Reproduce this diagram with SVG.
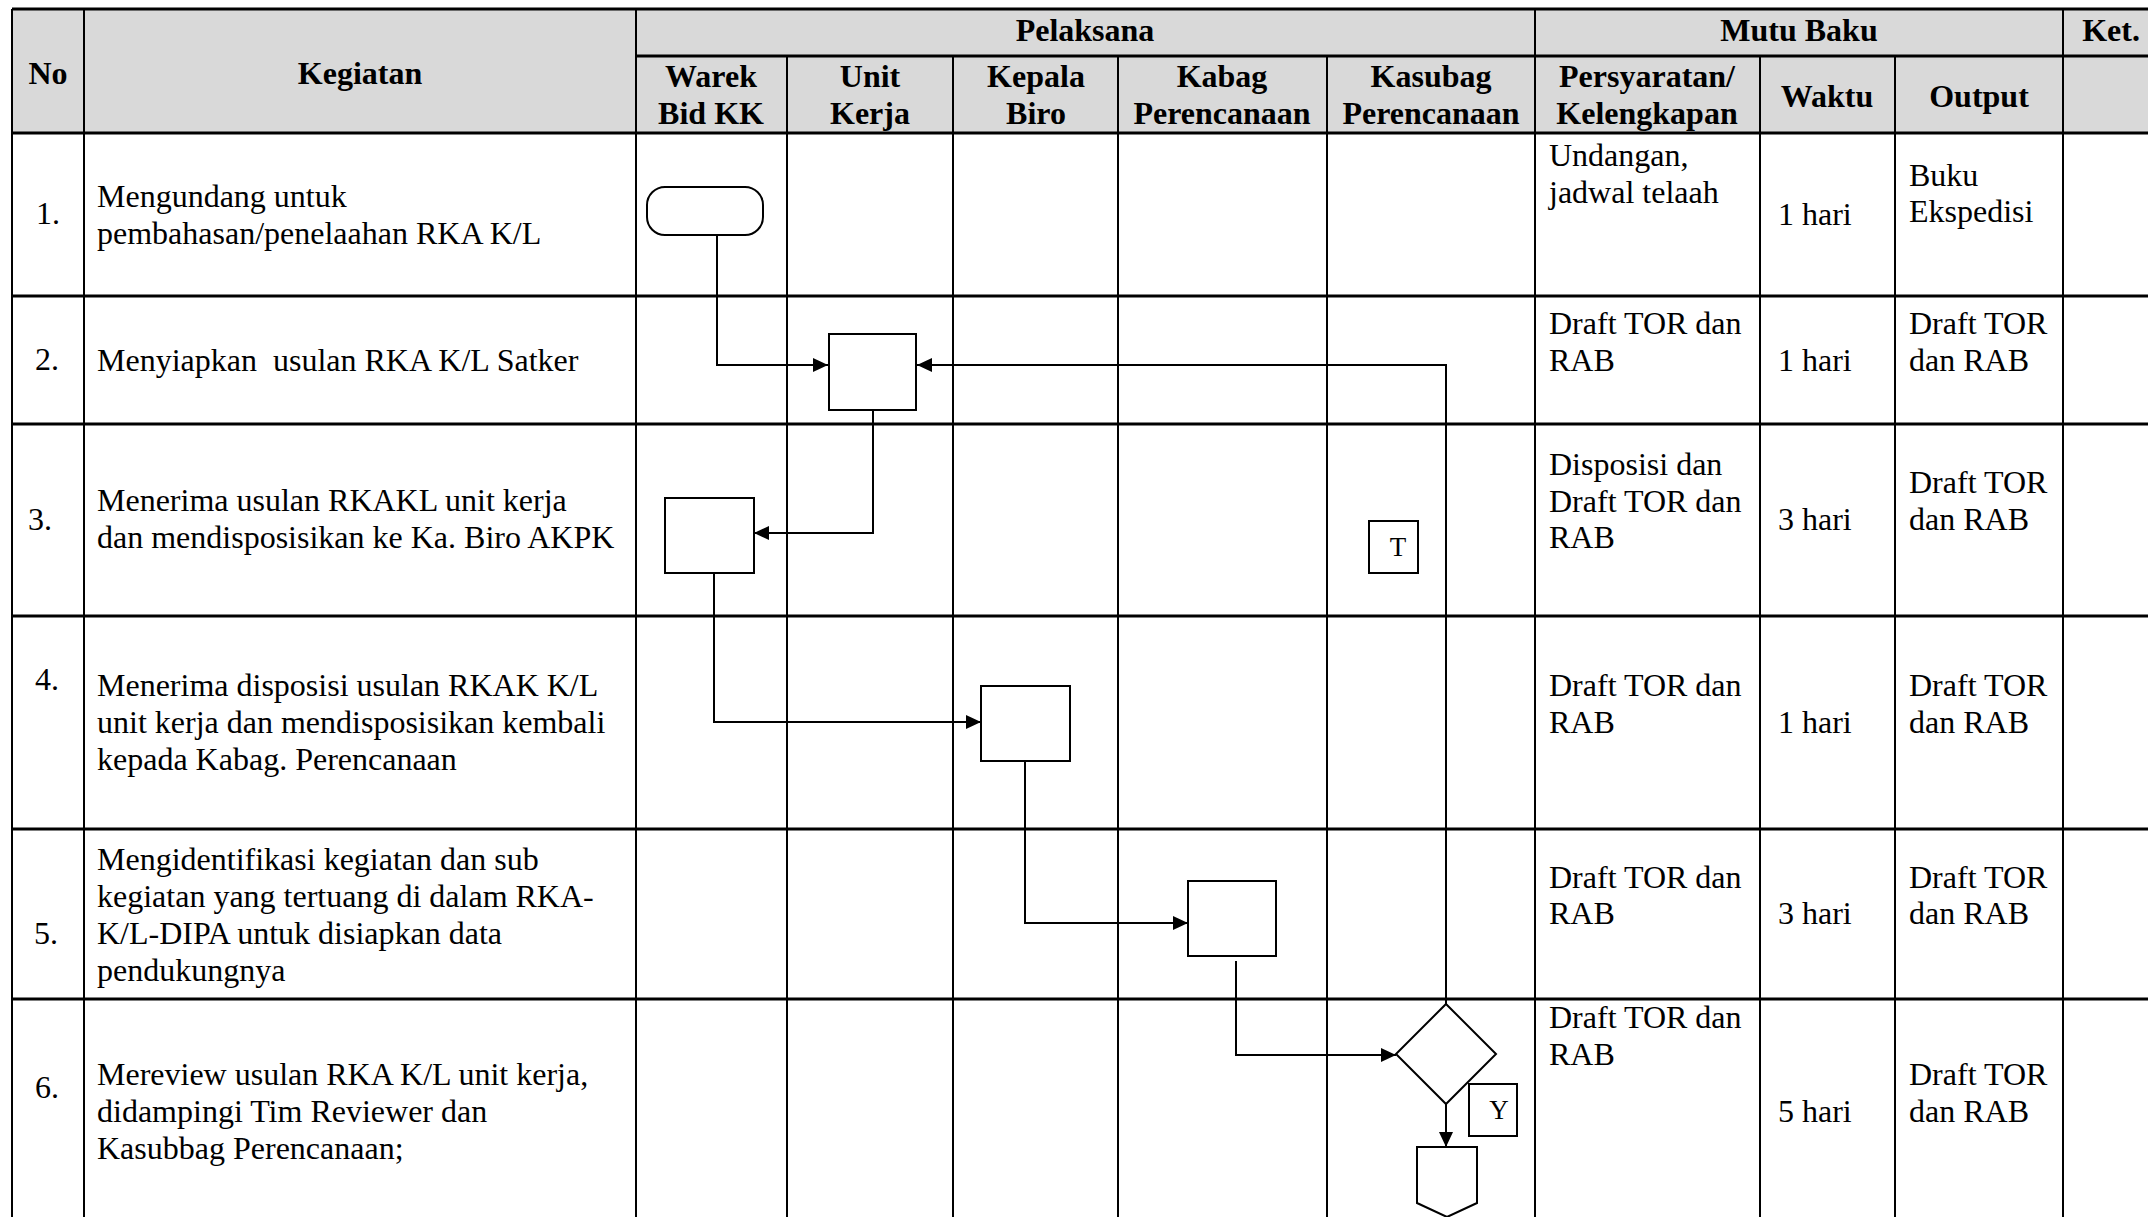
<svg xmlns="http://www.w3.org/2000/svg" width="2148" height="1217" viewBox="0 0 2148 1217">
<style>
.t{font-family:"Liberation Serif","Times New Roman",serif;font-size:32px;fill:#000}
.h{font-weight:bold;text-anchor:middle}
.hl{stroke:#000;stroke-width:3;fill:none}
.vl{stroke:#000;stroke-width:2;fill:none}
.shape{fill:#fff;stroke:#000;stroke-width:2}
.conn{fill:none;stroke:#000;stroke-width:2;marker-end:url(#arr)}
.lbl{font-family:"Liberation Serif","Times New Roman",serif;font-size:27px;fill:#000;text-anchor:middle}
</style>
<defs>
<marker id="arr" markerUnits="userSpaceOnUse" markerWidth="16" markerHeight="16" viewBox="0 0 16 16" refX="15" refY="8" orient="auto">
<path d="M0,1 L15,8 L0,15 Z" fill="#000"/>
</marker>
</defs>
<rect width="2148" height="1217" fill="#fff"/>
<g id="table">
<rect x="12" y="9" width="2150" height="124" fill="#d9d9d9"/>
<g class="hl">
<path d="M12,9 H2160"/>
<path d="M636,56 H2160"/>
<path d="M12,133 H2160"/>
<path d="M12,296 H2160"/>
<path d="M12,424 H2160"/>
<path d="M12,616 H2160"/>
<path d="M12,829 H2160"/>
<path d="M12,999 H2160"/>
</g>
<g class="vl">
<path d="M12,9 V1217"/>
<path d="M84,9 V1217"/>
<path d="M636,9 V1217"/>
<path d="M1535,9 V1217"/>
<path d="M2063,9 V1217"/>
<path d="M787,56 V1217"/>
<path d="M953,56 V1217"/>
<path d="M1118,56 V1217"/>
<path d="M1327,56 V1217"/>
<path d="M1760,56 V1217"/>
<path d="M1895,56 V1217"/>
</g>
</g>
<g id="header" class="t h">
<text x="48" y="84">No</text>
<text x="360" y="84">Kegiatan</text>
<text x="1085" y="41">Pelaksana</text>
<text x="1799" y="41">Mutu Baku</text>
<text x="2111" y="41">Ket.</text>
<text x="711" y="87">Warek</text>
<text x="711" y="124">Bid KK</text>
<text x="870" y="87">Unit</text>
<text x="870" y="124">Kerja</text>
<text x="1036" y="87">Kepala</text>
<text x="1036" y="124">Biro</text>
<text x="1222" y="87">Kabag</text>
<text x="1222" y="124">Perencanaan</text>
<text x="1431" y="87">Kasubag</text>
<text x="1431" y="124">Perencanaan</text>
<text x="1647" y="87">Persyaratan/</text>
<text x="1647" y="124">Kelengkapan</text>
<text x="1827" y="107">Waktu</text>
<text x="1979" y="107">Output</text>
</g>
<g id="numbers" class="t">
<text x="36" y="224">1.</text>
<text x="35" y="370">2.</text>
<text x="28" y="530">3.</text>
<text x="35" y="690">4.</text>
<text x="34" y="944">5.</text>
<text x="35" y="1098">6.</text>
</g>
<g id="kegiatan" class="t">
<text x="97" y="207">Mengundang untuk</text>
<text x="97" y="244">pembahasan/penelaahan RKA K/L</text>
<text x="97" y="371" xml:space="preserve">Menyiapkan  usulan RKA K/L Satker</text>
<text x="97" y="511">Menerima usulan RKAKL unit kerja</text>
<text x="97" y="548">dan mendisposisikan ke Ka. Biro AKPK</text>
<text x="97" y="696">Menerima disposisi usulan RKAK K/L</text>
<text x="97" y="733">unit kerja dan mendisposisikan kembali</text>
<text x="97" y="770">kepada Kabag. Perencanaan</text>
<text x="97" y="870">Mengidentifikasi kegiatan dan sub</text>
<text x="97" y="907">kegiatan yang tertuang di dalam RKA-</text>
<text x="97" y="944">K/L-DIPA untuk disiapkan data</text>
<text x="97" y="981">pendukungnya</text>
<text x="97" y="1085">Mereview usulan RKA K/L unit kerja,</text>
<text x="97" y="1122">didampingi Tim Reviewer dan</text>
<text x="97" y="1159">Kasubbag Perencanaan;</text>
</g>
<g id="persyaratan" class="t">
<text x="1549" y="166">Undangan,</text>
<text x="1549" y="203">jadwal telaah</text>
<text x="1549" y="334">Draft TOR dan</text>
<text x="1549" y="371">RAB</text>
<text x="1549" y="475">Disposisi dan</text>
<text x="1549" y="512">Draft TOR dan</text>
<text x="1549" y="548">RAB</text>
<text x="1549" y="696">Draft TOR dan</text>
<text x="1549" y="733">RAB</text>
<text x="1549" y="888">Draft TOR dan</text>
<text x="1549" y="924">RAB</text>
<text x="1549" y="1028">Draft TOR dan</text>
<text x="1549" y="1065">RAB</text>
</g>
<g id="waktu" class="t">
<text x="1778" y="225">1 hari</text>
<text x="1778" y="371">1 hari</text>
<text x="1778" y="530">3 hari</text>
<text x="1778" y="733">1 hari</text>
<text x="1778" y="924">3 hari</text>
<text x="1778" y="1122">5 hari</text>
</g>
<g id="output" class="t">
<text x="1909" y="186">Buku</text>
<text x="1909" y="222">Ekspedisi</text>
<text x="1909" y="334">Draft TOR</text>
<text x="1909" y="371">dan RAB</text>
<text x="1909" y="493">Draft TOR</text>
<text x="1909" y="530">dan RAB</text>
<text x="1909" y="696">Draft TOR</text>
<text x="1909" y="733">dan RAB</text>
<text x="1909" y="888">Draft TOR</text>
<text x="1909" y="924">dan RAB</text>
<text x="1909" y="1085">Draft TOR</text>
<text x="1909" y="1122">dan RAB</text>
</g>
<g id="connectors">
<path class="conn" d="M717,235 V365 H828"/>
<path class="conn" d="M873,410 V533 H754"/>
<path class="conn" d="M714,573 V722 H981"/>
<path class="conn" d="M1025,761 V923 H1188"/>
<path class="conn" d="M1236,961 V1055 H1396"/>
<path class="conn" d="M1446,1004 V365 H917"/>
<path class="conn" d="M1446,1104 V1147"/>
</g>
<g id="start"><rect class="shape" x="647" y="187" width="116" height="48" rx="18" ry="18"/></g>
<g id="box2"><rect class="shape" x="829" y="334" width="87" height="76"/></g>
<g id="box3"><rect class="shape" x="665" y="498" width="89" height="75"/></g>
<g id="box4"><rect class="shape" x="981" y="686" width="89" height="75"/></g>
<g id="box5"><rect class="shape" x="1188" y="881" width="88" height="75"/></g>
<g id="decision"><path class="shape" d="M1446,1004 L1496,1054 L1446,1104 L1396,1054 Z"/></g>
<g id="labelT"><rect class="shape" x="1369" y="521" width="49" height="52"/><text class="lbl" x="1398" y="556">T</text></g>
<g id="labelY"><rect class="shape" x="1469" y="1084" width="48" height="52"/><text class="lbl" x="1499" y="1119">Y</text></g>
<g id="offpage"><path class="shape" d="M1417,1147 H1477 V1203 L1447,1217 L1417,1203 Z"/></g>
</svg>
